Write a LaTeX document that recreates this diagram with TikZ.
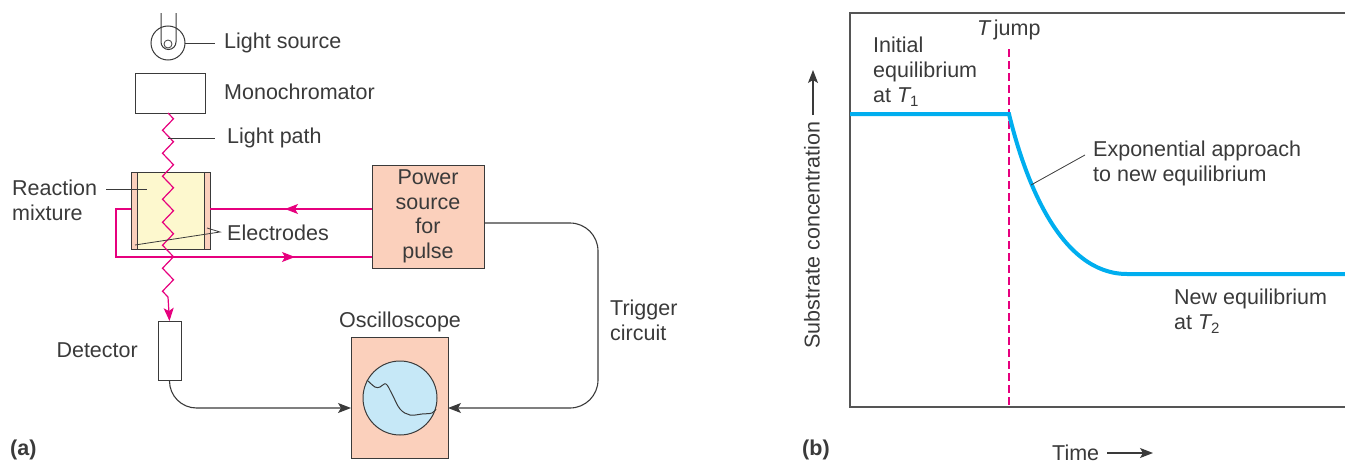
\documentclass[tikz,border=0pt]{standalone}
\usepackage{fontspec}
\setmainfont{Liberation Sans}
\usetikzlibrary{arrows.meta,decorations.pathmorphing,decorations.markings}
\definecolor{ink}{HTML}{3A3A3A}
\definecolor{framegray}{HTML}{555555}
\definecolor{wire}{HTML}{E6007E}
\definecolor{curveblue}{HTML}{00AEEF}
\definecolor{salmon}{HTML}{FBD0BC}
\definecolor{cellfill}{HTML}{FDF8CE}
\definecolor{screenfill}{HTML}{C6E8F7}
\newcommand{\subT}[1]{{\itshape T}\raisebox{-0.35ex}{\fontsize{15}{15}\selectfont #1}}
\begin{document}
\begin{tikzpicture}[x=1pt,y=-1pt,
  font=\fontsize{21.5}{25}\selectfont, text=ink,
  box/.style={draw=ink, line width=1pt, rectangle, inner sep=0pt, outer sep=0pt},
  lbl/.style={inner sep=0pt, anchor=west, align=left},
  lead/.style={draw=ink, line width=0.8pt},
  tiphead/.tip={Stealth[length=13pt,width=10pt,inset=3pt]},
  feed/.style={draw=ink, line width=1.1pt, -tiphead},
  pinkwire/.style={draw=wire, line width=1.2pt},
  tipmark/.style={postaction={decorate}, decoration={markings,
     mark=at position #1 with {\arrow{tiphead}}}}]
\useasboundingbox (0,0) rectangle (1345,463);

% ---------------- (a) apparatus ----------------
% lamp
\node[circle, draw=ink, line width=1pt, minimum size=34pt, inner sep=0pt, outer sep=0pt] (bulb) at (168,43) {};
\draw[lead, line width=1pt] (161,13) -- (161,42) arc[start angle=180, end angle=0, radius=7.5] -- (176,13);
\draw[lead] (168,44) circle[radius=4];
\coordinate (lsrc) at (215,43);
\draw[lead, line width=1pt] (bulb.east) -- (lsrc);
\node[lbl] (tsrc) at (224,43) {Light source};

% monochromator
\node[box, minimum width=70pt, minimum height=40pt] (mono) at (170,93) {};
\node[lbl] (tmono) at (224,92) {Monochromator};

% reaction cell with electrodes
\node[box, fill=cellfill, minimum width=79pt, minimum height=77pt] (cell) at (170.5,210.5) {};
\node[box, fill=salmon, minimum width=6pt, minimum height=77pt] (elecL) at (134,210.5) {};
\node[box, fill=salmon, minimum width=6pt, minimum height=77pt] (elecR) at (207,210.5) {};

% light path
\coordinate (lpA) at (168,113);
\coordinate (lpB) at (168,297);
\draw[pinkwire, decorate, decoration={zigzag, segment length=23pt, amplitude=5.5pt}] (lpA) -- (lpB);

% detector
\node[box, minimum width=23pt, minimum height=59pt] (det) at (169.5,350.5) {};
\draw[pinkwire, -tiphead] (lpB) -- (det.north);
\node[inner sep=0pt, anchor=east] (tdet) at (138,350) {Detector};

% light path label
\coordinate (lpL) at (168,138);
\coordinate (lpR) at (215,138);
\draw[lead, line width=1pt] (lpL) -- (lpR);
\node[lbl] (tpath) at (227,138) {Light path};

% reaction mixture label
\node[lbl] (tmix) at (12,200) {Reaction\\mixture};
\coordinate (mixA) at (106,189);
\coordinate (mixB) at (147,189);
\draw[lead] (mixA) -- (mixB);

% electrodes label
\node[lbl] (telec) at (227,233) {Electrodes};
\coordinate (elA) at (220,232);
\coordinate (elR) at (207,228);
\coordinate (elL) at (135,245);
\draw[lead] (elR) -- (elA) -- (elL);

% power source
\node[box, fill=salmon, minimum width=112pt, minimum height=103pt, align=center,
      font=\fontsize{21.5}{24.5}\selectfont] (power) at (428,216.5) {Power\\source\\for\\pulse};

% pulse wiring
\coordinate (wtop) at (0,209);
\coordinate (wbot) at (0,257);
\coordinate (wcorner) at (116,209);
\draw[pinkwire, tipmark=0.537] (power.west |- wtop) -- (cell.east |- wtop);
\draw[pinkwire, tipmark=242pt] (cell.west |- wtop) -- (wcorner) -- (wcorner |- wbot) -- (power.west |- wbot);

% oscilloscope
\node[box, fill=salmon, minimum width=97pt, minimum height=121pt] (osc) at (399.5,397.5) {};
\node[circle, draw=ink, line width=1pt, fill=screenfill, minimum size=74pt, inner sep=0pt] (screen) at (400,398) {};
\draw[lead, line width=1pt] plot[smooth, tension=0.6] coordinates
  {(367,380) (375,387) (380,387) (386,384) (392,394) (400,409) (410,415) (422,414) (432,413) (436,409)};
\node[inner sep=0pt] (tosc) at (400,322) {Oscilloscope};

% signal lines
\coordinate (sigy) at (0,408);
\coordinate (trigx) at (598,0);
\draw[feed, rounded corners=27pt] (det.south) -- (det.south |- sigy) -- (osc.west |- sigy);
\draw[feed, rounded corners=28pt] (power.east |- 0,223) -- (trigx |- 0,223) -- (trigx |- sigy) -- (osc.east |- sigy);
\node[lbl] (ttrig) at (610,320) {Trigger\\circuit};

\node[lbl, font=\fontsize{21.5}{25}\selectfont\bfseries] (pa) at (10,450) {(a)};

% ---------------- (b) relaxation plot ----------------
\coordinate (fTR) at (1345,13);
\coordinate (fTL) at (850,13);
\coordinate (fBL) at (850,407);
\coordinate (fBR) at (1345,407);
\draw[framegray, line width=1.5pt] (fTR) -- (fTL) -- (fBL) -- (fBR);

\coordinate (jTop) at (1009,49);
\coordinate (jBot) at (1009,407);
\draw[wire, line width=1.4pt, dash pattern=on 8pt off 4pt] (jTop) -- (jBot);

\draw[curveblue, line width=4pt] (850,114) -- (1009,114)
   .. controls (1025,180) and (1060,274) .. (1127,274) -- (1345,274);

\node[lbl] (tjump) at (977,30) {{\itshape T}\,jump};
\node[lbl] (tinit) at (873,72) {Initial\\equilibrium\\at \subT{1}};
\node[lbl] (texp) at (1093,163.5) {Exponential approach\\to new equilibrium};
\coordinate (expA) at (1085,155);
\coordinate (expB) at (1031,185);
\draw[lead] (expA) -- (expB);
\node[lbl] (tnew) at (1174,311.5) {New equilibrium\\at \subT{2}};

\node[inner sep=0pt, rotate=90] (ylab) at (812,235) {Substrate concentration};
\coordinate (yA) at (813,115);
\coordinate (yB) at (813,70);
\draw[feed] (yA) -- (yB);

\node[lbl] (xlab) at (1052,453) {Time};
\coordinate (xA) at (1107,453);
\coordinate (xB) at (1153,453);
\draw[feed] (xA) -- (xB);

\node[lbl, font=\fontsize{21.5}{25}\selectfont\bfseries] (pb) at (802,450) {(b)};
\end{tikzpicture}
\end{document}
